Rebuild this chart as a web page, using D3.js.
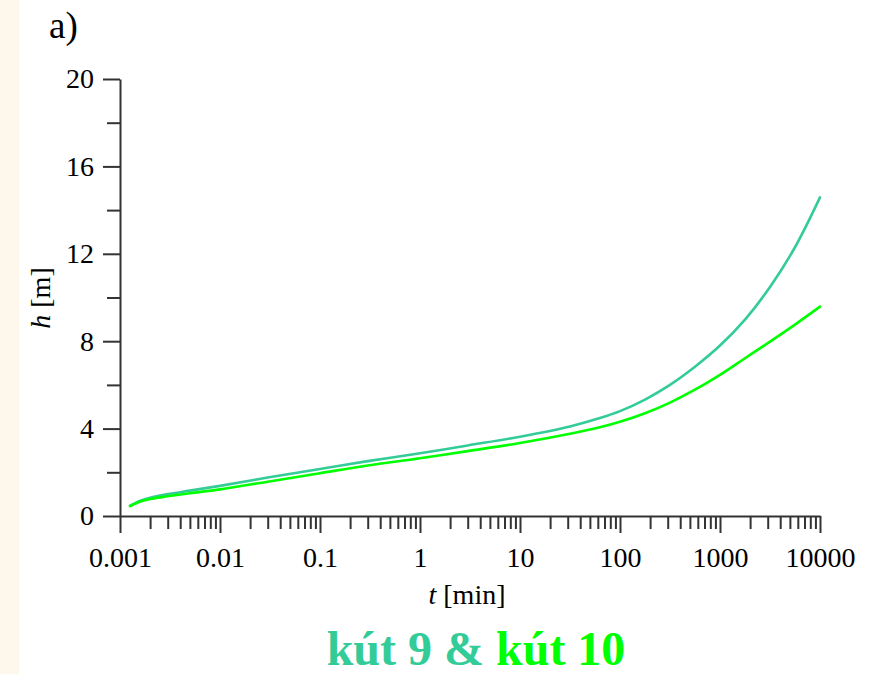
<!DOCTYPE html>
<html>
<head>
<meta charset="utf-8">
<script src="https://cdn.jsdelivr.net/npm/d3@7"></script>
<style>
  body { margin: 0; background: #fff; }
  svg { display: block; }
  text { font-family: "Liberation Serif", "Times New Roman", serif; fill: #000; }
</style>
</head>
<body>
<div id="chart"></div>
<script>
// time [min] and water level [m]
const times = [0.00126, 0.0016, 0.002, 0.003, 0.005, 0.01, 0.03, 0.1, 0.3, 1, 3, 10, 31.6, 63, 100, 178, 316, 562, 1000, 1778, 3162, 5623, 10000];
const kut9  = [0.47, 0.70, 0.84, 1.00, 1.16, 1.38, 1.76, 2.15, 2.51, 2.87, 3.23, 3.63, 4.10, 4.48, 4.80, 5.33, 6.00, 6.83, 7.80, 8.99, 10.48, 12.3, 14.58];
const kut10 = [0.45, 0.66, 0.78, 0.90, 1.04, 1.22, 1.57, 1.96, 2.31, 2.64, 2.97, 3.34, 3.76, 4.06, 4.31, 4.70, 5.19, 5.78, 6.46, 7.22, 7.98, 8.76, 9.58];

const xMajor = [0.001, 0.01, 0.1, 1, 10, 100, 1000, 10000];
const yMajor = [0, 4, 8, 12, 16, 20];
const yMinor = [2, 6, 10, 14, 18];

const colors = { kut9: "#33cc99", kut10: "#00ff00", axis: "#333" };

const width = 884, height = 674;

const svg = d3.select("#chart").append("svg")
    .attr("width", width)
    .attr("height", height);

// beige strip on the left
svg.append("rect")
    .attr("x", 0).attr("y", 0)
    .attr("width", 19).attr("height", height)
    .attr("fill", "#fdf8eb");

const x = d3.scaleLog().domain([0.001, 10000]).range([120, 820]);
const y = d3.scaleLinear().domain([0, 20]).range([516, 79]);

// minor ticks of the log axis: 2..9 of each decade
const xMinor = [];
xMajor.slice(0, -1).forEach(d => {
    for (let k = 2; k <= 9; k++) xMinor.push(d * k);
});

function styleAxis(g) {
    g.selectAll("path, line").attr("stroke", colors.axis).attr("stroke-width", 2);
    g.selectAll("text")
        .attr("font-family", "Liberation Serif, serif")
        .attr("font-size", 28)
        .attr("fill", "#000");
}

// x axis
svg.append("g")
    .attr("transform", `translate(0,${y(0)})`)
    .call(d3.axisBottom(x).tickValues(xMinor).tickSize(13).tickSizeOuter(0).tickFormat(""))
    .call(styleAxis);

svg.append("g")
    .attr("transform", `translate(0,${y(0)})`)
    .call(d3.axisBottom(x).tickValues(xMajor).tickSize(17).tickSizeOuter(0)
        .tickPadding(14).tickFormat(d3.format("~g")))
    .call(g => g.select(".domain").remove())
    .call(styleAxis);

// y axis
svg.append("g")
    .attr("transform", `translate(${x(0.001)},0)`)
    .call(d3.axisLeft(y).tickValues(yMinor).tickSize(13).tickSizeOuter(0).tickFormat(""))
    .call(styleAxis);

svg.append("g")
    .attr("transform", `translate(${x(0.001)},0)`)
    .call(d3.axisLeft(y).tickValues(yMajor).tickSize(17).tickPadding(9).tickSizeOuter(0))
    .call(g => g.select(".domain").remove())
    .call(styleAxis);

// curves
const line = d3.line()
    .x((d, i) => x(times[i]))
    .y(d => y(d))
    .curve(d3.curveCatmullRom.alpha(0.5));

[[kut9, colors.kut9], [kut10, colors.kut10]].forEach(([vals, c]) => {
    svg.append("path")
        .attr("d", line(vals))
        .attr("fill", "none")
        .attr("stroke", c)
        .attr("stroke-width", 2.6)
        .attr("stroke-linecap", "round");
});

// labels
svg.append("text")
    .attr("x", 49).attr("y", 38)
    .attr("font-size", 37)
    .text("a)");

svg.append("text")
    .attr("transform", "translate(50,298) rotate(-90)")
    .attr("text-anchor", "middle")
    .attr("font-size", 28)
    .html('<tspan font-style="italic">h</tspan> [m]');

svg.append("text")
    .attr("x", 467).attr("y", 604)
    .attr("text-anchor", "middle")
    .attr("font-size", 28)
    .html('<tspan font-style="italic">t</tspan> [min]');

const legend = svg.append("text")
    .attr("x", 476).attr("y", 665)
    .attr("text-anchor", "middle")
    .attr("font-size", 48)
    .attr("font-weight", "bold");
legend.append("tspan").attr("fill", colors.kut9).text("kút 9 & ");
legend.append("tspan").attr("fill", colors.kut10).text("kút 10");
</script>
</body>
</html>
